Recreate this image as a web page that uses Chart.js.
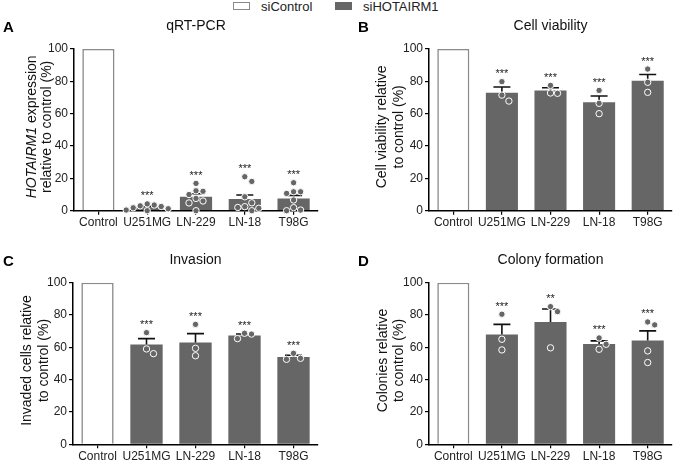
<!DOCTYPE html>
<html>
<head>
<meta charset="utf-8">
<script src="https://cdn.jsdelivr.net/npm/chart.js@4/dist/chart.umd.min.js"></script>
<style>
  html, body { margin:0; padding:0; background:#fff; }
  body { width:674px; height:461px; position:relative; overflow:hidden; font-family:"Liberation Sans", Arial, sans-serif; }
  canvas { position:absolute; }
  .lg { position:absolute; top:0; height:13px; font-size:13px; line-height:13px; color:#222; }
  .box { position:absolute; top:2px; width:17px; height:8px; box-sizing:border-box; }
</style>
</head>
<body>
<div class="box" style="left:233px; border:1px solid #8a8a8a; background:#fff;"></div>
<div class="lg" style="left:261px;">siControl</div>
<div class="box" style="left:335px; background:#666;"></div>
<div class="lg" style="left:363px;">siHOTAIRM1</div>

<canvas id="cA" width="337" height="230" style="left:0; top:0;"></canvas>
<canvas id="cB" width="337" height="230" style="left:337px; top:0;"></canvas>
<canvas id="cC" width="337" height="231" style="left:0; top:230px;"></canvas>
<canvas id="cD" width="337" height="231" style="left:337px; top:230px;"></canvas>

<script>
// ---------- data ----------
const categories = ['Control', 'U251MG', 'LN-229', 'LN-18', 'T98G'];
const yTickValues = [0, 20, 40, 60, 80, 100];

// A: qRT-PCR
const qpcrMeans = [100, 2.1, 8.7, 7.3, 7.6];
const qpcrSems  = [0, 0.6, 1.8, 2.4, 1.9];
const qpcrDots  = [[], [4.2, 3.5, 3.0, 2.6, 1.8, 1.2, 0.4, 0.0], [16.9, 12.3, 12.0, 10.0, 7.6, 6.0, 4.8, 0.0], [21.0, 18.1, 8.6, 4.9, 2.5, 2.0, 1.5, 0.0], [17.3, 11.7, 11.7, 10.7, 6.6, 1.9, 0.4, 0.0]];
const qpcrStars = ['', '***', '***', '***', '***'];

// B: Cell viability
const viabMeans = [100, 73.0, 74.4, 67.0, 80.3];
const viabSems  = [0, 3.5, 1.6, 3.9, 3.9];
const viabDots  = [[], [79.8, 71.5, 67.8], [77.5, 72.6, 72.8], [74.4, 66.4, 60.0], [87.6, 79.4, 73.2]];
const viabStars = ['', '***', '***', '***', '***'];

// C: Invasion
const invMeans = [100, 61.8, 63.0, 67.3, 54.0];
const invSems  = [0, 3.6, 5.5, 1.0, 1.1];
const invDots  = [[], [69.1, 59.0, 56.1], [74.2, 59.4, 54.8], [68.7, 68.2, 65.4], [56.3, 52.6, 53.2]];
const invStars = ['', '***', '***', '***', '***'];

// D: Colony formation
const colMeans = [100, 68.0, 75.7, 62.1, 64.3];
const colSems  = [0, 6.2, 8.0, 1.9, 5.9];
const colDots  = [[], [80.5, 65.0, 58.4], [85.2, 82.1, 59.7], [65.8, 61.9, 58.8], [75.7, 73.9, 57.8, 50.6]];
const colStars = ['', '***', '**', '***', '***'];

// ---------- styling ----------
const FONT = '"Liberation Sans", Arial, sans-serif';
const BAR_GREY = '#666666';
const CTRL_BORDER = '#8a8a8a';

function makePlugin(p) {
  return {
    id: 'fig' + p.letter,
    afterDatasetsDraw(chart) {
      const { ctx, scales: { x, y } } = chart;
      ctx.save();
      // error bars (SEM, upward)
      ctx.strokeStyle = '#111';
      ctx.lineWidth = 1.6;
      p.means.forEach((m, i) => {
        if (!p.sems[i]) return;
        const cx = x.getPixelForValue(i);
        const y0 = y.getPixelForValue(m), y1 = y.getPixelForValue(m + p.sems[i]);
        ctx.beginPath();
        ctx.moveTo(cx, y0); ctx.lineTo(cx, y1);
        ctx.moveTo(cx - 8.5, y1); ctx.lineTo(cx + 8.5, y1);
        ctx.stroke();
      });
      // individual points (simple beeswarm)
      const r = 3.2, step = 7.0, minD = 6.4;
      p.dots.forEach((vals, i) => {
        const cx = x.getPixelForValue(i);
        const placed = [];
        [...vals].sort((a, b) => b - a).forEach(v => {
          const py = y.getPixelForValue(v);
          const cands = [0, step, -step, 2 * step, -2 * step, 3 * step, -3 * step];
          let px = cx;
          for (const o of cands) {
            const tx = cx + o;
            if (placed.every(q => Math.hypot(q.x - tx, q.y - py) >= minD)) { px = tx; break; }
          }
          placed.push({ x: px, y: py });
        });
        placed.forEach(q => {
          ctx.beginPath();
          ctx.arc(q.x, q.y, r, 0, Math.PI * 2);
          ctx.fillStyle = BAR_GREY; ctx.fill();
          ctx.lineWidth = 1; ctx.strokeStyle = '#fff'; ctx.stroke();
        });
      });
      // significance stars
      ctx.fillStyle = '#222';
      ctx.font = '11px ' + FONT;
      ctx.textAlign = 'center';
      ctx.textBaseline = 'alphabetic';
      p.stars.forEach((s, i) => {
        if (!s) return;
        const top = Math.max(p.means[i] + p.sems[i], ...(p.dots[i].length ? p.dots[i] : [0]));
        const cy = y.getPixelForValue(top) - 11;
        ctx.fillText(s, x.getPixelForValue(i), cy + 6.5);
      });
      ctx.restore();
    },
    afterDraw(chart) {
      const { ctx, chartArea: ca } = chart;
      ctx.save();
      // panel title
      ctx.fillStyle = '#111';
      ctx.font = '14px ' + FONT;
      ctx.textAlign = 'center';
      ctx.textBaseline = 'middle';
      ctx.fillText(p.title, (ca.left + ca.right) / 2, ca.top - 23);
      // panel letter
      ctx.fillStyle = '#000';
      ctx.font = 'bold 15px ' + FONT;
      ctx.textAlign = 'left';
      ctx.fillText(p.letter, p.letterX, ca.top - 21);
      // y-axis title (rotated, possibly mixed italic)
      const cy = (ca.top + ca.bottom) / 2 - 3;
      p.yTitle.forEach((line, li) => {
        const lx = ca.left + p.yTitleX[li];
        let w = 0;
        line.forEach(seg => { ctx.font = (seg.i ? 'italic ' : '') + '14px ' + FONT; w += ctx.measureText(seg.t).width; });
        ctx.save();
        ctx.translate(lx, cy);
        ctx.rotate(-Math.PI / 2);
        ctx.textAlign = 'left';
        ctx.textBaseline = 'middle';
        ctx.fillStyle = '#111';
        let xx = -w / 2;
        line.forEach(seg => {
          ctx.font = (seg.i ? 'italic ' : '') + '14px ' + FONT;
          ctx.fillText(seg.t, xx, 0);
          xx += ctx.measureText(seg.t).width;
        });
        ctx.restore();
      });
      ctx.restore();
    }
  };
}

function makeChart(id, p, lay) {
  const canvas = document.getElementById(id);
  return new Chart(canvas, {
    type: 'bar',
    data: {
      labels: categories,
      datasets: [{
        data: p.means,
        backgroundColor: p.means.map((_, i) => i === 0 ? '#ffffff' : BAR_GREY),
        borderColor: p.means.map((_, i) => i === 0 ? CTRL_BORDER : BAR_GREY),
        borderWidth: p.means.map((_, i) => i === 0 ? 1.6 : 0),
        borderSkipped: 'start',
        categoryPercentage: 1.0,
        barPercentage: 0.66
      }]
    },
    options: {
      responsive: false,
      animation: false,
      devicePixelRatio: 1,
      layout: { padding: { top: lay.top, right: lay.right, left: 0, bottom: 0 } },
      plugins: { legend: { display: false }, tooltip: { enabled: false }, title: { display: false } },
      scales: {
        x: {
          offset: true,
          afterFit(s) { s.height = lay.xh; },
          grid: { offset: false, drawOnChartArea: false, tickLength: 4, color: '#000', lineWidth: 1.2 },
          border: { display: true, color: '#000', width: 1.5 },
          ticks: { padding: 1, color: '#222', font: { family: FONT, size: 12 }, maxRotation: 0, autoSkip: false }
        },
        y: {
          min: 0, max: 100,
          afterFit(s) { s.width = lay.yw; },
          afterBuildTicks(s) { s.ticks = yTickValues.map(v => ({ value: v })); },
          grid: { drawOnChartArea: false, tickLength: 4, color: '#000', lineWidth: 1.2 },
          border: { display: true, color: '#000', width: 1.5 },
          ticks: { padding: 2, color: '#222', font: { family: FONT, size: 12 } }
        }
      }
    },
    plugins: [makePlugin(p)]
  });
}

makeChart('cA', {
  letter: 'A', letterX: 3, title: 'qRT-PCR',
  yTitle: [[{ t: 'HOTAIRM1', i: true }, { t: ' expression' }], [{ t: 'relative to control (%)' }]],
  yTitleX: [-42, -27],
  means: qpcrMeans, sems: qpcrSems, dots: qpcrDots, stars: qpcrStars
}, { top: 49, right: 19, xh: 19.3, yw: 74 });

makeChart('cB', {
  letter: 'B', letterX: 21, title: 'Cell viability',
  yTitle: [[{ t: 'Cell viability relative' }], [{ t: 'to control (%)' }]],
  yTitleX: [-47, -30],
  means: viabMeans, sems: viabSems, dots: viabDots, stars: viabStars
}, { top: 49, right: 2, xh: 19.3, yw: 92 });

makeChart('cC', {
  letter: 'C', letterX: 3, title: 'Invasion',
  yTitle: [[{ t: 'Invaded cells relative' }], [{ t: 'to control (%)' }]],
  yTitleX: [-45.5, -29],
  means: invMeans, sems: invSems, dots: invDots, stars: invStars
}, { top: 52.7, right: 19, xh: 16.7, yw: 73 });

makeChart('cD', {
  letter: 'D', letterX: 21, title: 'Colony formation',
  yTitle: [[{ t: 'Colonies relative' }], [{ t: 'to control (%)' }]],
  yTitleX: [-46, -29.5],
  means: colMeans, sems: colSems, dots: colDots, stars: colStars
}, { top: 52.7, right: 2, xh: 16.7, yw: 92 });
</script>
</body>
</html>
